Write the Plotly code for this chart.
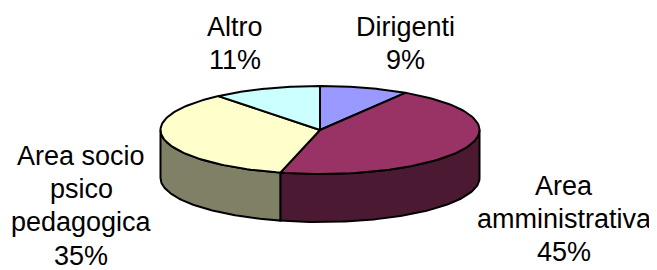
import numpy as np
import plotly.graph_objects as go

# ---- data ----
categories = ["Dirigenti", "Area amministrativa", "Area socio psico pedagogica", "Altro"]
values = [9, 45, 35, 11]
label_lines = [["Dirigenti"], ["Area", "amministrativa"], ["Area socio", "psico", "pedagogica"], ["Altro"]]

top_colors = ["#9999FF", "#993366", "#FFFFCC", "#CCFFFF"]
side_colors = ["#4C4C80", "#4C1933", "#808066", "#668080"]

# ---- geometry of the projected 3D pie (page-pixel axis units) ----
CX, CY, RX, RY, DEPTH = 320, 130, 159.5, 44, 48
W, H = 657, 270
OFF = 8  # page body margin
FS = 27
LINE = 33.4


def arc(t0, t1, dy=0.0, n=90):
    t = np.radians(np.linspace(t0, t1, n))
    return CX + RX * np.cos(t), CY - RY * np.sin(t) + dy


total = float(sum(values))
fracs = np.array(values) / total
cum = np.concatenate([[0], np.cumsum(fracs)])
starts = 90 - 360 * cum[:-1]
ends = 90 - 360 * cum[1:]

fig = go.Figure()

# side walls (front half only)
for i, cat in enumerate(categories):
    hi = min(starts[i], 0.0)
    lo = max(ends[i], -180.0)
    if lo < hi:
        xt, yt = arc(hi, lo)
        xb, yb = arc(lo, hi, dy=DEPTH)
        xs = np.concatenate([xt, xb, xt[:1]])
        ys = np.concatenate([yt, yb, yt[:1]])
        fig.add_trace(go.Scatter(x=xs, y=ys, mode="lines", fill="toself",
                                 fillcolor=side_colors[i],
                                 line=dict(color="black", width=2),
                                 hoverinfo="skip", showlegend=False))

# top faces
for i, cat in enumerate(categories):
    xa, ya = arc(starts[i], ends[i])
    xs = np.concatenate([[CX], xa, [CX]])
    ys = np.concatenate([[CY], ya, [CY]])
    fig.add_trace(go.Scatter(x=xs, y=ys, mode="lines", fill="toself",
                             fillcolor=top_colors[i],
                             line=dict(color="black", width=2),
                             hoverinfo="skip", showlegend=False, name=cat))

# labels: (x centre, baseline of first line)
label_pos = [(405, 36), (564, 195), (81, 165), (235, 36)]
for i, cat in enumerate(categories):
    lines = label_lines[i] + [f"{values[i]}%"]
    x, b0 = label_pos[i]
    for k, ln in enumerate(lines):
        base = b0 + k * LINE
        fig.add_annotation(x=x, y=base - 0.35 * FS, xref="x", yref="y", text=ln,
                           showarrow=False, xanchor="center", yanchor="middle",
                           borderpad=0,
                           font=dict(family="Liberation Sans, Arial, sans-serif",
                                     size=FS, color="black"))

fig.update_layout(
    width=W - OFF, height=H - OFF, autosize=False,
    margin=dict(l=0, r=0, t=0, b=0),
    paper_bgcolor="white", plot_bgcolor="white",
    xaxis=dict(range=[OFF, W], visible=False, fixedrange=True),
    yaxis=dict(range=[H, OFF], visible=False, fixedrange=True),
)

fig.write_html("out.html")
